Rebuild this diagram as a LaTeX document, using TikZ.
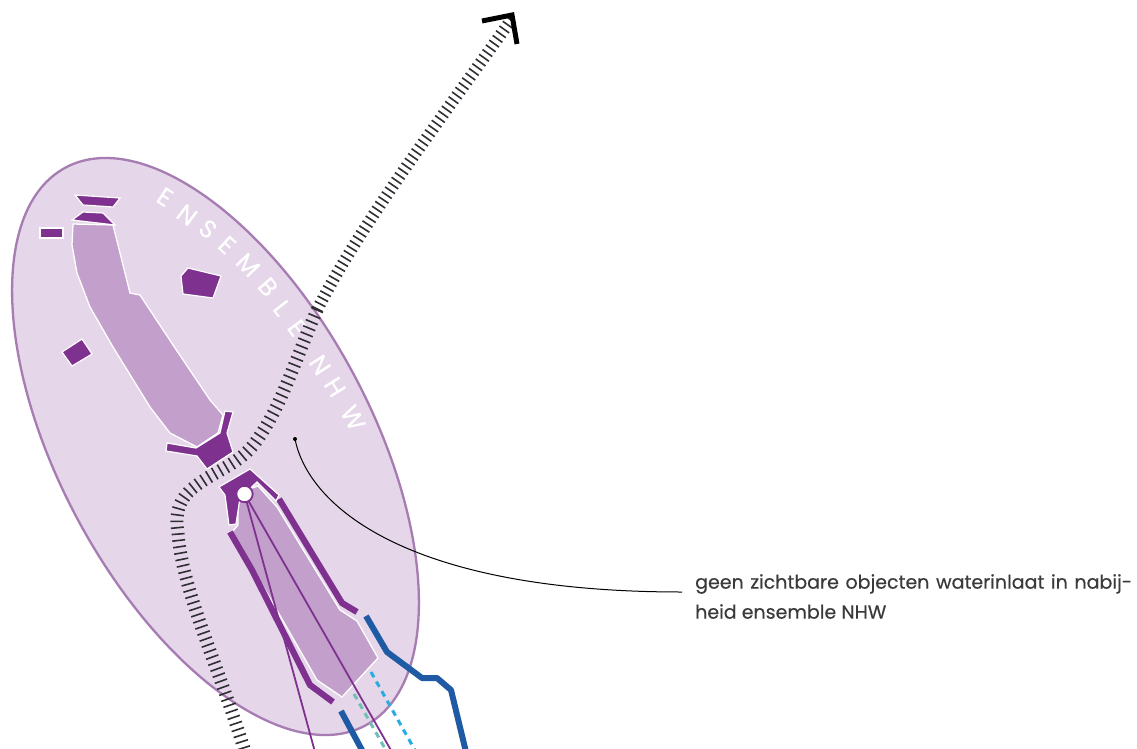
\documentclass[tikz,border=0pt]{standalone}
\usepackage{fontspec}
\setmainfont[FakeBold=0.25]{Poppins}
\usetikzlibrary{decorations.pathreplacing}
\definecolor{ellfill}{HTML}{E5D6E9}
\definecolor{elldraw}{HTML}{A67CB2}
\definecolor{basin}{HTML}{C3A0CB}
\definecolor{dark}{HTML}{7F318F}
\definecolor{blueline}{HTML}{1F5BA5}
\definecolor{cyanline}{HTML}{2AACE2}
\definecolor{tealline}{HTML}{6FC1B8}
\definecolor{hatch}{HTML}{2E2E33}
\definecolor{txt}{HTML}{3A3A3A}
\tikzset{
  basinshape/.style={fill=basin,draw=white,line width=1.3pt,line join=miter},
  objectshape/.style={fill=dark,draw=white,line width=1.2pt,line join=miter},
  wall/.style={draw=dark,line width=6.2pt,line join=bevel},
  bluewall/.style={draw=blueline,line width=6pt,line join=round},
  dashline/.style={line width=3pt,dash pattern=on 6pt off 5pt},
  thinpurple/.style={draw=dark,line width=1.8pt},
  hatchA/.style={draw=hatch,line width=1.6pt,decorate,decoration={ticks,segment length=5.8pt,amplitude=6pt}},
  hatchB/.style={draw=hatch,line width=1.6pt,decorate,decoration={ticks,segment length=6.6pt,amplitude=6.5pt}},
  hatchC/.style={draw=hatch,line width=1.6pt,decorate,decoration={ticks,segment length=6.4pt,amplitude=6.5pt}},
  archletter/.style={text=white,inner sep=0pt,font=\fontsize{25}{26}\selectfont,rotate=#1},
}
\begin{document}
\begin{tikzpicture}[x=1pt,y=-1pt]
\useasboundingbox (0,0) rectangle (1137,749);
\fill[white] (0,0) rectangle (1137,749);
% ensemble ellipse
\draw[fill=ellfill,draw=elldraw,line width=2.3pt,shift={(215.5,446.5)},rotate=-61.7] (0,0) ellipse [x radius=316.7pt,y radius=155.9pt];
% name along the ellipse
\node[archletter=-33] (a1) at (165,197) {E};
\node[archletter=-37] (a2) at (187,215) {N};
\node[archletter=-40] (a3) at (208,229) {S};
\node[archletter=-43] (a4) at (227,245) {E};
\node[archletter=-46] (a5) at (248,265) {M};
\node[archletter=-49] (a6) at (268,287) {B};
\node[archletter=-52] (a7) at (282,308) {L};
\node[archletter=-54] (a8) at (297,328) {E};
\node[archletter=-57] (a9) at (320,365) {N};
\node[archletter=-58] (a10) at (335,387) {H};
\node[archletter=-62] (a11) at (353,418) {W};
% upper basin
\path[basinshape] (73,224) -- (113,225) -- (130,293) -- (140,295) -- (175,348) -- (210,400) -- (223,415) -- (218,433) -- (197,447) -- (170,433) -- (150,407) -- (113,347) -- (90,307) -- (77,273) -- (72,245) -- cycle;
% objects
\path[objectshape] (75,195) -- (120,198) -- (113,207) -- (83,205) -- cycle;
\path[objectshape] (72,220) -- (83,212) -- (103,213) -- (115,225) -- cycle;
\path[objectshape] (40,228) -- (63,228) -- (63,238) -- (40,238) -- cycle;
\path[objectshape] (188,268) -- (221,276) -- (213,298) -- (183,294) -- (181,276) -- cycle;
\path[objectshape] (62,352) -- (82,339) -- (92,354) -- (72,366) -- cycle;
\path[objectshape] (225,411) -- (233,412) -- (227,433) -- (233,452) -- (207,469) -- (197,456) -- (166,451) -- (167,443) -- (196,448) -- (220,433) -- cycle;
% lower basin
\path[basinshape] (238,500) -- (245,490) -- (258,486) -- (277,507) -- (340,610) -- (357,621) -- (378,658) -- (342,697) -- (317,680) -- (232,532) -- (238,525) -- cycle;
% dashed lines
\coordinate (cyanA) at (371,672); \coordinate (cyanB) at (416,752);
\coordinate (tealA) at (354,694); \coordinate (tealB) at (387,752);
\draw[dashline,cyanline] (cyanA) -- (cyanB);
\draw[dashline,tealline] (tealA) -- (tealB);
% walls
\draw[wall] (230,532) -- (252,570) -- (310,685) -- (333,702);
\draw[wall] (279,499) -- (322,570) -- (342,603) -- (357,612);
\draw[bluewall] (366,616) -- (387,652) -- (422,678) -- (437,678) -- (451,690) -- (466,752);
\draw[bluewall] (341,711) -- (363,752);
% lower sluice and thin lines
\path[objectshape] (219,487) -- (250,469) -- (279,495) -- (276,501) -- (257,482) -- (240,498) -- (236,524) -- (229,525) -- (225,495) -- cycle;
\coordinate (hub) at (244.5,494);
\coordinate (thinA) at (315,752); \coordinate (thinB) at (392,752);
\draw[thinpurple] (hub) -- (thinA);
\draw[thinpurple] (hub) -- (thinB);
\draw[fill=white,draw=dark,line width=1.8pt] (hub) circle (8.2pt);
% railway
\coordinate (r1) at (511,20); \coordinate (r2) at (317,310); \coordinate (r3) at (257,440);
\coordinate (r4) at (193,488); \coordinate (r5) at (178,533); \coordinate (r6) at (245,752);
\draw[hatchA] (r1) .. controls (440,120) and (360,225) .. (r2);
\draw[hatchB] (r2) .. controls (295,360) and (282,405) .. (r3) .. controls (240,465) and (215,470) .. (r4);
\draw[hatchC] (r4) .. controls (178,500) and (175,515) .. (r5) .. controls (182,590) and (220,670) .. (r6);
% north arrow
\coordinate (nA) at (482,21); \coordinate (nT) at (512,15); \coordinate (nB) at (517,44);
\draw[black,line width=5pt,line join=miter] (nA) -- (nT) -- (nB);
% label and leader
\coordinate (dot) at (295,439);
\fill[black] (dot) circle (2pt);
\node[anchor=north west,inner sep=0pt,text width=437pt,align=justify,text=txt,font=\fontsize{19}{30}\selectfont] (label) at (695,574) {geen zichtbare objecten waterinlaat in nabij-\linebreak heid ensemble NHW};
\coordinate (leadEnd) at (682,592);
\draw[black,line width=1pt] (dot) .. controls (308,505) and (405,592) .. (leadEnd);
\end{tikzpicture}
\end{document}
